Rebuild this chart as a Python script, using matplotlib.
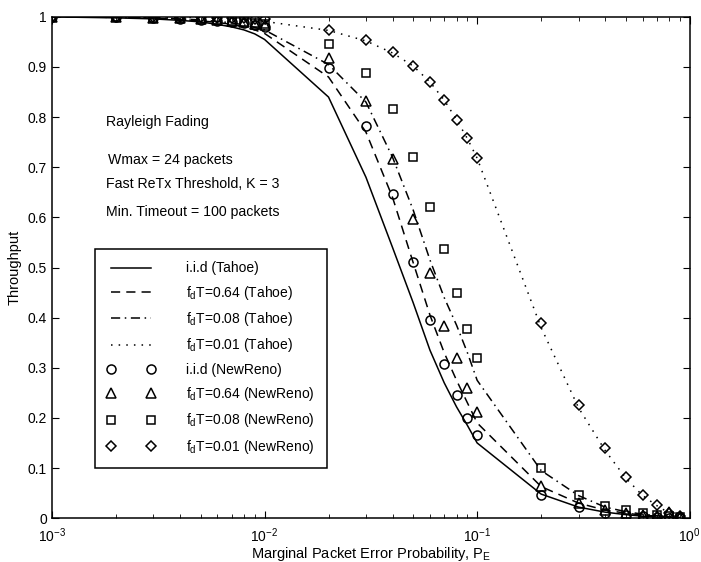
import matplotlib
matplotlib.use("Agg")
import matplotlib.pyplot as plt
from matplotlib.ticker import FixedLocator, FuncFormatter, LogLocator, NullFormatter

plt.rcParams['font.family'] = ['Liberation Sans', 'DejaVu Sans']
plt.rcParams['mathtext.fontset'] = 'custom'
plt.rcParams['mathtext.rm'] = 'Liberation Sans'
plt.rcParams['mathtext.it'] = 'Liberation Sans'
plt.rcParams['mathtext.default'] = 'regular'

# packet error probability
pe = [0.001, 0.002, 0.003, 0.004, 0.005, 0.006, 0.007, 0.008, 0.009,
      0.01, 0.02, 0.03, 0.04, 0.05, 0.06, 0.07, 0.08, 0.09,
      0.1, 0.2, 0.3, 0.4, 0.5, 0.6, 0.7, 0.8, 0.9]

# Tahoe (lines)
tahoe_iid = [1.0, 0.998, 0.996, 0.993, 0.99, 0.985, 0.98, 0.974, 0.966,
             0.955, 0.84, 0.68, 0.54, 0.43, 0.335, 0.27, 0.222, 0.185,
             0.15, 0.048, 0.022, 0.012, 0.007, 0.004, 0.002, 0.001, 0.0]
tahoe_064 = [1.0, 0.999, 0.997, 0.995, 0.992, 0.989, 0.985, 0.98, 0.974,
             0.967, 0.88, 0.77, 0.64, 0.51, 0.405, 0.33, 0.275, 0.23,
             0.19, 0.063, 0.03, 0.016, 0.01, 0.006, 0.004, 0.002, 0.001]
tahoe_008 = [1.0, 0.999, 0.998, 0.996, 0.994, 0.991, 0.988, 0.984, 0.979,
             0.974, 0.905, 0.83, 0.72, 0.615, 0.515, 0.44, 0.385, 0.33,
             0.275, 0.095, 0.045, 0.022, 0.013, 0.008, 0.005, 0.003, 0.001]
tahoe_001 = [1.0, 1.0, 0.999, 0.999, 0.998, 0.997, 0.996, 0.995, 0.993,
             0.991, 0.973, 0.952, 0.928, 0.902, 0.87, 0.834, 0.795, 0.757,
             0.718, 0.38, 0.22, 0.135, 0.08, 0.045, 0.025, 0.01, 0.003]

# NewReno (markers)
reno_iid = [1.0, 0.999, 0.998, 0.996, 0.994, 0.992, 0.99, 0.987, 0.984,
            0.98, 0.898, 0.782, 0.647, 0.511, 0.395, 0.307, 0.245, 0.2,
            0.165, 0.046, 0.022, 0.011, 0.006, 0.004, 0.002, 0.001, 0.0]
reno_064 = [1.0, 0.999, 0.998, 0.997, 0.995, 0.993, 0.991, 0.989, 0.986,
            0.983, 0.918, 0.833, 0.716, 0.597, 0.49, 0.383, 0.32, 0.26,
            0.212, 0.064, 0.03, 0.016, 0.01, 0.007, 0.005, 0.012, 0.002]
reno_008 = [1.0, 0.999, 0.998, 0.997, 0.996, 0.994, 0.992, 0.99, 0.988,
            0.985, 0.945, 0.888, 0.816, 0.72, 0.62, 0.537, 0.45, 0.377,
            0.32, 0.1, 0.046, 0.024, 0.017, 0.01, 0.007, 0.004, 0.002]
reno_001 = [1.0, 1.0, 1.0, 0.999, 0.999, 0.998, 0.998, 0.997, 0.996,
            0.995, 0.973, 0.953, 0.93, 0.902, 0.87, 0.834, 0.794, 0.758,
            0.718, 0.39, 0.225, 0.14, 0.082, 0.046, 0.026, 0.01, 0.004]

fig = plt.figure(figsize=(7.01, 5.62), dpi=100)
ax = fig.add_axes([0.074, 0.078, 0.91, 0.892])

lw = 1.1
ax.plot(pe, tahoe_iid, 'k-', lw=lw, label='i.i.d (Tahoe)')
ax.plot(pe, tahoe_064, 'k', ls=(0, (6, 4)), lw=lw, label='f$_d$T=0.64 (Tahoe)')
ax.plot(pe, tahoe_008, 'k', ls=(0, (6, 3, 1, 3)), lw=lw, label='f$_d$T=0.08 (Tahoe)')
ax.plot(pe, tahoe_001, 'k', ls=(0, (1, 4)), lw=lw, label='f$_d$T=0.01 (Tahoe)')

mk = dict(ls='none', mfc='none', mec='k', ms=6.5, mew=1.1)
ax.plot(pe, reno_iid, marker='o', label='i.i.d (NewReno)', **mk)
ax.plot(pe, reno_064, marker='^', label='f$_d$T=0.64 (NewReno)', **mk)
ax.plot(pe, reno_008, marker='s', label='f$_d$T=0.08 (NewReno)', **dict(mk, ms=5.5))
ax.plot(pe, reno_001, marker='D', label='f$_d$T=0.01 (NewReno)', **dict(mk, ms=5.5))

ax.set_xscale('log')
ax.set_xlim(1e-3, 1)
ax.set_ylim(0, 1)
ax.yaxis.set_major_locator(FixedLocator([i / 10 for i in range(11)]))
ax.yaxis.set_major_formatter(FuncFormatter(lambda v, p: '%g' % v))
ax.xaxis.set_major_locator(LogLocator(base=10))
ax.xaxis.set_minor_locator(LogLocator(base=10, subs=range(2, 10)))
ax.xaxis.set_minor_formatter(NullFormatter())
ax.tick_params(which='both', direction='in', top=True, right=True, labelsize=10)
ax.tick_params(axis='x', which='major', labelsize=10, pad=6)
ax.tick_params(which='major', length=5)
ax.tick_params(which='minor', length=3)
for s in ax.spines.values():
    s.set_linewidth(1.1)

ax.set_xlabel('Marginal Packet Error Probability, P$_E$', fontsize=10.5, labelpad=0)
ax.set_ylabel('Throughput', fontsize=10.5, labelpad=4)

tx = 0.085
fs = 10.2
ax.text(tx, 0.79, 'Rayleigh Fading', transform=ax.transAxes, fontsize=fs, va='center')
ax.text(tx + 0.003, 0.715, 'Wmax = 24 packets', transform=ax.transAxes, fontsize=fs, va='center')
ax.text(tx, 0.667, 'Fast ReTx Threshold, K = 3', transform=ax.transAxes, fontsize=fs, va='center')
ax.text(tx, 0.61, 'Min. Timeout = 100 packets', transform=ax.transAxes, fontsize=fs, va='center')

leg = ax.legend(loc='upper left', bbox_to_anchor=(0.067, 0.537), numpoints=2,
                fontsize=10, handlelength=3.45, handletextpad=2.2, labelspacing=0.6,
                borderpad=0.9, fancybox=False, framealpha=1, edgecolor='k',
                borderaxespad=0)
leg.get_frame().set_linewidth(1.1)

fig.savefig('out.png', dpi=100)
